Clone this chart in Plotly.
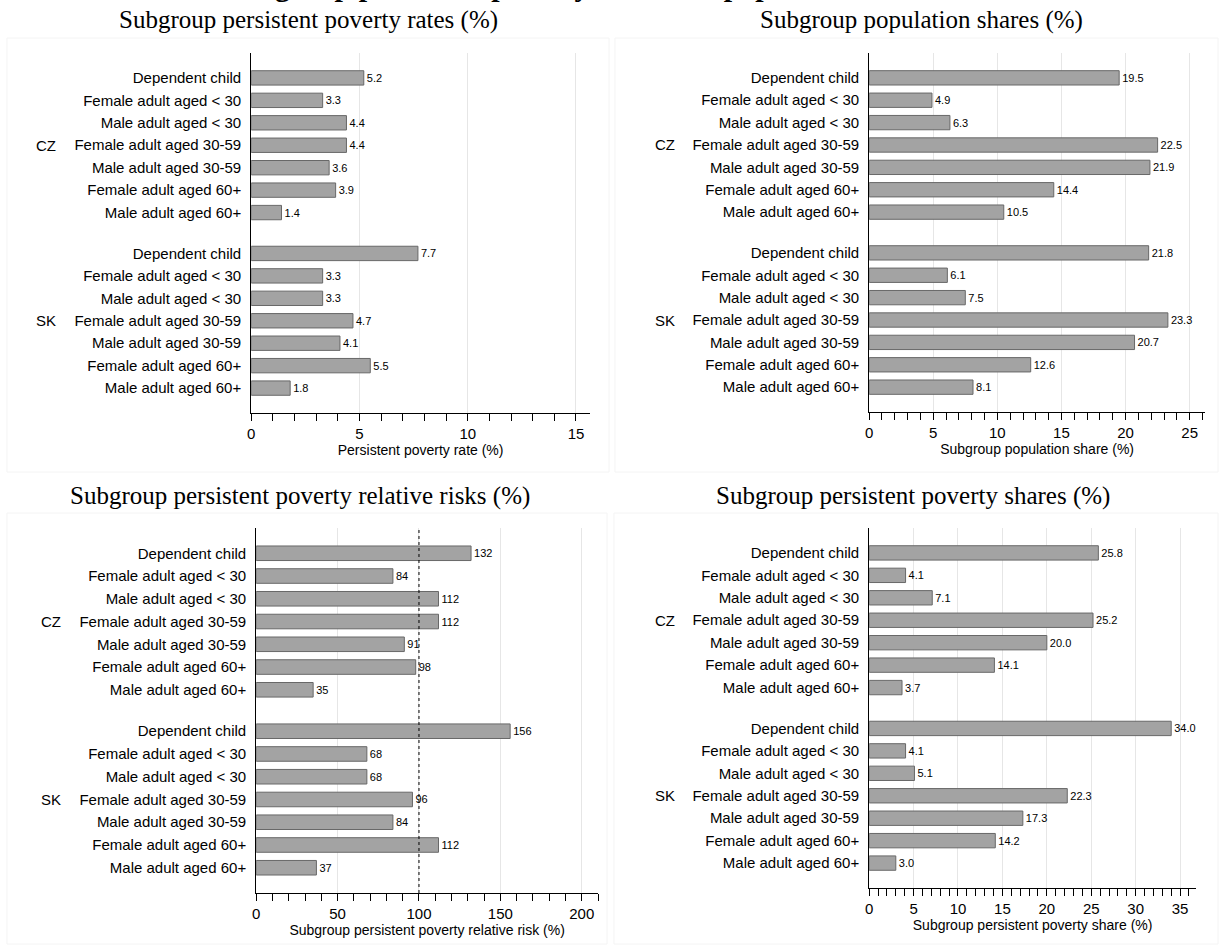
import plotly.graph_objects as go

W, H = 1221, 945

categories = ["Dependent child", "Female adult aged < 30", "Male adult aged < 30",
              "Female adult aged 30-59", "Male adult aged 30-59",
              "Female adult aged 60+", "Male adult aged 60+"]
countries = ["CZ", "SK"]

rate_cz = [5.2, 3.3, 4.4, 4.4, 3.6, 3.9, 1.4]
rate_sk = [7.7, 3.3, 3.3, 4.7, 4.1, 5.5, 1.8]
pop_cz = [19.5, 4.9, 6.3, 22.5, 21.9, 14.4, 10.5]
pop_sk = [21.8, 6.1, 7.5, 23.3, 20.7, 12.6, 8.1]
risk_cz = [132, 84, 112, 112, 91, 98, 35]
risk_sk = [156, 68, 68, 96, 84, 112, 37]
share_cz = [25.8, 4.1, 7.1, 25.2, 20.0, 14.1, 3.7]
share_sk = [34.0, 4.1, 5.1, 22.3, 17.3, 14.2, 3.0]

titles = ["Subgroup persistent poverty rates (%)", "Subgroup population shares (%)",
          "Subgroup persistent poverty relative risks (%)", "Subgroup persistent poverty shares (%)"]
xtitles = ["Persistent poverty rate (%)", "Subgroup population share (%)",
           "Subgroup persistent poverty relative risk (%)", "Subgroup persistent poverty share (%)"]
main_title = "Subgroup persistent poverty rates and population shares"

# layout positions (pixels)
GAP = 7.82
ypos = [i for i in range(7)] + [GAP + i for i in range(7)]
ylabels = categories + categories

panels = [
    dict(vals=rate_cz + rate_sk, fmt="%{x:.1f}", xpx=(248, 588), ypx=(53, 413), rng=[0, 15.65], dtick=5, minor=1,
         title_c=(305, 20), grp_x=42),
    dict(vals=pop_cz + pop_sk, fmt="%{x:.1f}", xpx=(868, 1205), ypx=(53, 412), rng=[0, 26.2], dtick=5, minor=1,
         title_c=(921, 20), grp_x=663),
    dict(vals=risk_cz + risk_sk, fmt="%{x:.0f}", xpx=(253, 596), ypx=(528, 893), rng=[0, 210], dtick=50, minor=10,
         title_c=(297, 496), grp_x=47),
    dict(vals=share_cz + share_sk, fmt="%{x:.1f}", xpx=(868, 1196), ypx=(528, 888), rng=[0, 36.8], dtick=5, minor=1,
         title_c=(912, 496), grp_x=663),
]

def px_x(p):
    return p / W

def px_y(p):
    return 1 - p / H

fig = go.Figure()
annotations = []
shapes = []
sans = "Liberation Sans, Arial, sans-serif"
serif = "Liberation Serif, Times New Roman, serif"

for k, p in enumerate(panels):
    n = "" if k == 0 else str(k + 1)
    xa, ya = "x" + n, "y" + n
    fig.add_trace(go.Bar(
        x=p["vals"], y=ypos, orientation="h", width=0.64,
        marker=dict(color="#a3a3a3", line=dict(color="#686868", width=1)),
        texttemplate=p["fmt"], textposition="outside", constraintext="none",
        textfont=dict(size=11, color="black", family=sans), cliponaxis=False,
        xaxis=xa, yaxis=ya, showlegend=False, hoverinfo="skip"))
    fig.layout["xaxis" + n] = dict(
        domain=[px_x(p["xpx"][0]), px_x(p["xpx"][1])], anchor=ya, range=p["rng"],
        dtick=p["dtick"], tick0=0, showline=True, linecolor="black", linewidth=1,
        ticks="outside", ticklen=7, tickcolor="black", tickwidth=1,
        tickfont=dict(size=15, family=sans, color="black"),
        showgrid=True, gridcolor="#e6e6e6", gridwidth=1, zeroline=False,
        minor=dict(dtick=p["minor"], tick0=0, ticks="outside", ticklen=7, tickcolor="black", showgrid=False),
        title=dict(text=xtitles[k], font=dict(size=14, family=sans, color="black"), standoff=0),
        fixedrange=True)
    fig.layout["yaxis" + n] = dict(
        domain=[px_y(p["ypx"][1]), px_y(p["ypx"][0])], anchor=xa, range=[GAP + 6 + 1.11, -1.11],
        tickvals=ypos, ticktext=ylabels, ticks="", showgrid=False, zeroline=False,
        showline=True, linecolor="black", linewidth=1, ticklabelstandoff=6,
        tickfont=dict(size=15, family=sans, color="black"), fixedrange=True)
    # subplot title
    annotations.append(dict(text=titles[k], x=px_x(p["title_c"][0]), y=px_y(p["title_c"][1]),
                            xref="paper", yref="paper", showarrow=False, xanchor="center", yanchor="middle",
                            font=dict(size=25, family=serif, color="black")))
    # group labels
    for g, c in enumerate(countries):
        annotations.append(dict(text=c, x=px_x(p["grp_x"]), y=3 + g * GAP, xref="paper", yref=ya,
                                showarrow=False, xanchor="center", yanchor="middle",
                                font=dict(size=15, family=sans, color="black")))

# reference line at 100% relative risk
shapes.append(dict(type="line", xref="x3", yref="y3 domain", x0=100, x1=100, y0=0, y1=1,
                   line=dict(color="black", width=1, dash="dot")))

# faint panel frames
for (x0, y0, x1, y1) in [(3, 38, 607, 472), (613, 38, 1218, 472), (3, 513, 605, 944), (612, 513, 1218, 944)]:
    shapes.append(dict(type="rect", xref="paper", yref="paper", x0=px_x(x0), x1=px_x(x1),
                       y0=px_y(y1), y1=px_y(y0), line=dict(color="#f4f4f4", width=1), layer="below"))

# clipped main title at the very top
annotations.append(dict(text="<b>" + main_title + "</b>", x=0.48, y=px_y(4.5), xref="paper", yref="paper",
                        showarrow=False, xanchor="center", yanchor="bottom",
                        font=dict(size=30, family=serif, color="black")))

fig.update_layout(width=W, height=H, margin=dict(l=0, r=0, t=0, b=0),
                  paper_bgcolor="white", plot_bgcolor="white",
                  annotations=annotations, shapes=shapes, bargap=0.3)

fig.write_html("out.html", config={"displayModeBar": False},
               post_script="document.body.style.margin='0px';document.body.style.overflow='hidden';")
